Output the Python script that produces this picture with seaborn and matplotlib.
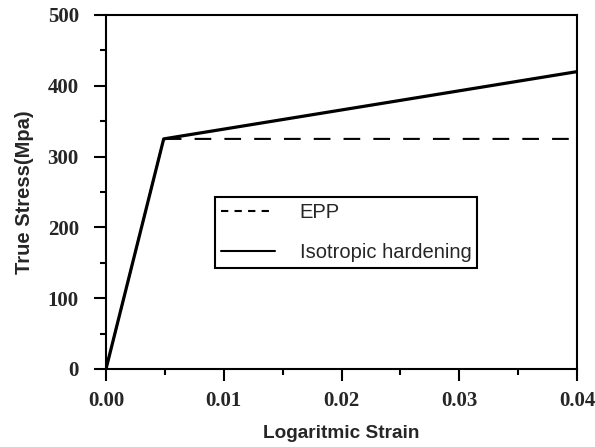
import matplotlib
matplotlib.use("Agg")
import matplotlib.pyplot as plt
import seaborn as sns
import pandas as pd
from matplotlib.ticker import MultipleLocator

# Data
epp_strain = [0.0, 0.0049, 0.04]
epp_stress = [0.0, 325.0, 325.0]
iso_strain = [0.0, 0.0049, 0.04]
iso_stress = [0.0, 325.0, 420.0]
series_names = ["EPP", "Isotropic hardening"]
x_ticks = [0.00, 0.01, 0.02, 0.03, 0.04]
x_tick_labels = ["0.00", "0.01", "0.02", "0.03", "0.04"]
y_ticks = [0, 100, 200, 300, 400, 500]

df = pd.concat([
    pd.DataFrame({"strain": epp_strain, "stress": epp_stress, "model": series_names[0]}),
    pd.DataFrame({"strain": iso_strain, "stress": iso_stress, "model": series_names[1]}),
], ignore_index=True)

sns.set_style("white")
fig = plt.figure(figsize=(5.95, 4.47), dpi=100)
ax = fig.add_axes([106/595, 1-369/447, 471/595, 354/447])

sns.lineplot(data=df[df.model == series_names[0]], x="strain", y="stress", ax=ax,
             color="black", linewidth=1.5, label=series_names[0], sort=False)
ax.lines[-1].set_dashes((8, 6.3))
sns.lineplot(data=df[df.model == series_names[1]], x="strain", y="stress", ax=ax,
             color="black", linewidth=2.3, label=series_names[1], sort=False)

ax.set_xlim(0, 0.04)
ax.set_ylim(0, 500)
ax.set_xticks(x_ticks)
ax.set_xticklabels(x_tick_labels)
ax.set_yticks(y_ticks)
ax.xaxis.set_minor_locator(MultipleLocator(0.005))
ax.yaxis.set_minor_locator(MultipleLocator(50))

for s in ax.spines.values():
    s.set_color("black")
    s.set_linewidth(1.5)
    s.set_visible(True)

ax.tick_params(axis="y", which="major", pad=11)
ax.tick_params(axis="x", which="major", pad=7)
ax.tick_params(axis="both", which="major", direction="out", length=8.6, width=1.5,
               color="black", bottom=True, left=True, top=False, right=False)
ax.tick_params(axis="both", which="minor", direction="out", length=4.3, width=1.5,
               color="black", bottom=True, left=True, top=False, right=False)
for lab in ax.get_xticklabels() + ax.get_yticklabels():
    lab.set_fontfamily("Liberation Serif")
    lab.set_fontweight("bold")
    lab.set_fontsize(15)

ax.set_xlabel("Logaritmic Strain", fontfamily="Liberation Sans", fontweight="bold",
              fontsize=13.7, labelpad=10)
ax.set_ylabel("True Stress(Mpa)", fontfamily="Liberation Sans", fontweight="bold",
              fontsize=14.5, labelpad=10)

leg = ax.legend(loc="upper left", bbox_to_anchor=((215-106)/471, (369-197)/354),
                borderaxespad=0, frameon=True, fancybox=False, handlelength=2.7,
                handletextpad=1.2, borderpad=0.3, labelspacing=1.05,
                prop={"family": "Liberation Sans", "size": 14.5})
leg.get_frame().set_edgecolor("black")
leg.get_frame().set_linewidth(1.5)
leg.get_frame().set_alpha(1)
for h in leg.get_lines():
    h.set_linewidth(1.5)
leg.get_lines()[0].set_dashes((3.5, 3))

fig.savefig("out.png", dpi=100)
